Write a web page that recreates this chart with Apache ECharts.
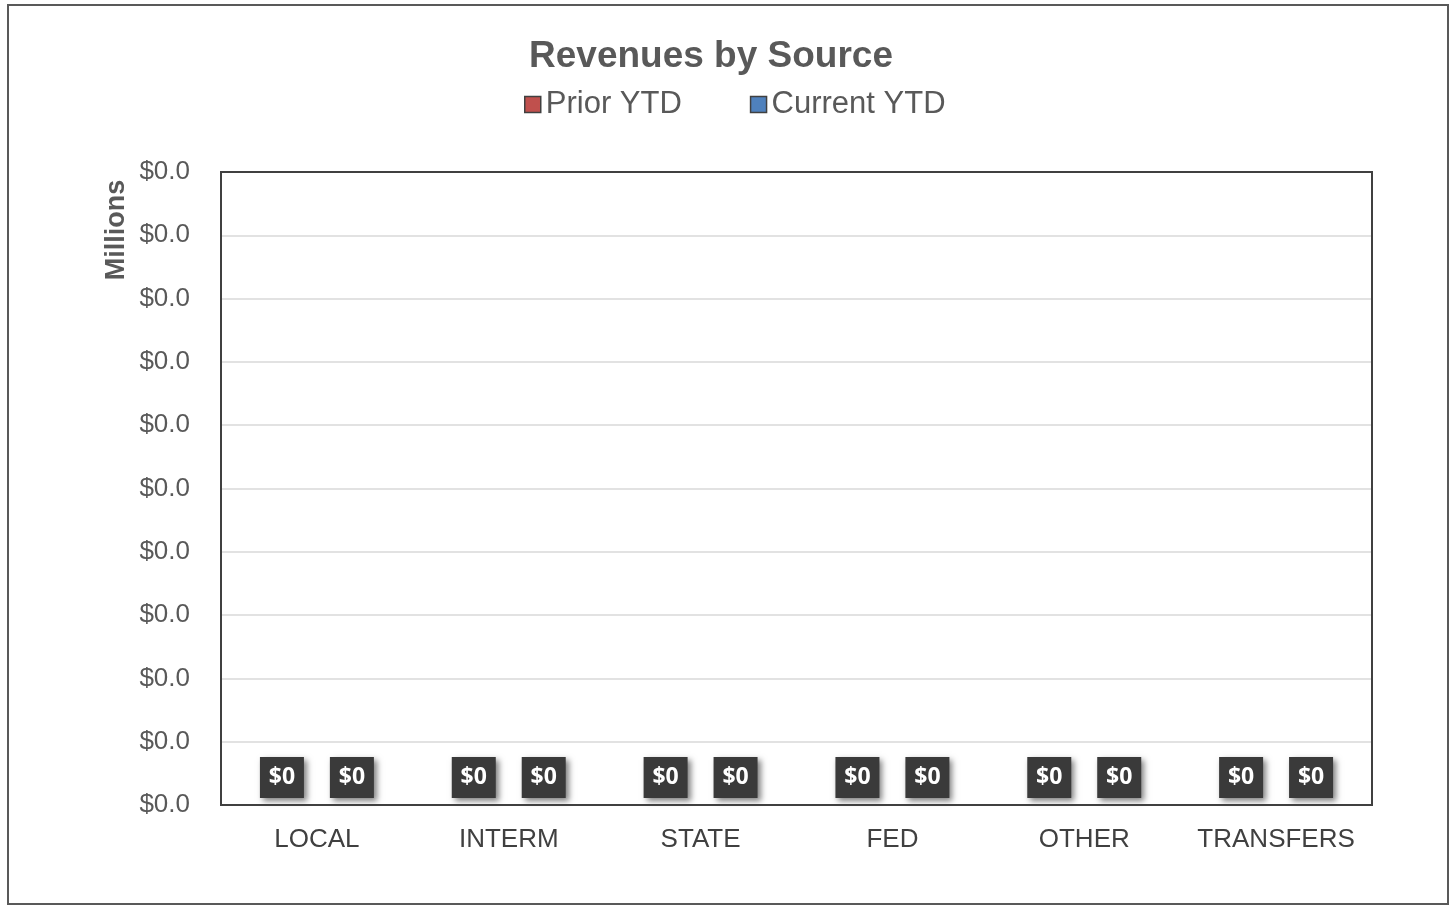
<!DOCTYPE html>
<html>
<head>
<meta charset="utf-8">
<title>Revenues by Source</title>
<script src="https://cdn.jsdelivr.net/npm/echarts@6/dist/echarts.min.js"></script>
<style>
  html, body { margin: 0; padding: 0; background: #ffffff; }
  #chart { width: 1451px; height: 906px; }
</style>
</head>
<body>
<div id="chart"></div>
<script>
// Revenue categories and year-to-date amounts (dollars)
const categories = ['LOCAL', 'INTERM', 'STATE', 'FED', 'OTHER', 'TRANSFERS'];
const priorYTD = [0, 0, 0, 0, 0, 0];
const currentYTD = [0, 0, 0, 0, 0, 0];
const seriesNames = ['Prior YTD', 'Current YTD'];
// Value axis range in dollars, shown in millions
const axisMin = 0;
const axisMax = 10;
const axisStep = 1;

const FONT = '"Liberation Sans", Arial, sans-serif';
const PLOT = { left: 221, right: 79, top: 172, bottom: 101 };
const W = 1451, H = 906;

// Dark value tags with a soft drop shadow
const valueTag = {
  show: true,
  position: 'top',
  distance: 7,
  formatter: p => '$' + (p.value / 1e6).toFixed(0),
  color: '#ffffff',
  fontFamily: '"Open Sans", "Noto Sans", sans-serif',
  fontWeight: 'bold',
  fontSize: 23,
  width: 44,
  height: 41,
  lineHeight: 41,
  align: 'center',
  backgroundColor: '#3a3a3a',
  shadowColor: 'rgba(0,0,0,0.5)',
  shadowBlur: 6,
  shadowOffsetX: 3,
  shadowOffsetY: 3
};

const chart = echarts.init(document.getElementById('chart'), null, { renderer: 'canvas' });

chart.setOption({
  backgroundColor: '#ffffff',
  animation: false,
  title: {
    text: 'Revenues by Source',
    left: 706,
    textAlign: 'center',
    top: 33,
    textStyle: { fontFamily: FONT, fontWeight: 'bold', fontSize: 37, color: '#595959' }
  },
  legend: {
    data: seriesNames,
    left: 519,
    top: 84,
    itemWidth: 16,
    itemHeight: 16,
    itemGap: 68,
    icon: 'rect',
    itemStyle: { borderColor: '#404040', borderWidth: 1.5 },
    textStyle: { fontFamily: FONT, fontSize: 31, color: '#595959' }
  },
  grid: {
    left: PLOT.left,
    right: PLOT.right,
    top: PLOT.top,
    bottom: PLOT.bottom,
    show: false
  },
  xAxis: {
    type: 'category',
    data: categories,
    axisLine: { show: true, lineStyle: { color: '#404040', width: 2 } },
    axisTick: { show: false },
    axisLabel: { interval: 0, fontFamily: FONT, fontSize: 26, color: '#404040', margin: 22 }
  },
  yAxis: {
    type: 'value',
    min: axisMin,
    max: axisMax,
    interval: axisStep,
    axisLine: { show: false },
    axisTick: { show: false },
    splitLine: { show: true, lineStyle: { color: '#d9d9d9', width: 1.5 } },
    axisLabel: {
      fontFamily: FONT,
      fontSize: 26,
      color: '#595959',
      margin: 31,
      formatter: v => '$' + (v / 1e6).toFixed(1)
    }
  },
  graphic: [
    {
      type: 'rect',
      shape: { x: 8, y: 5, width: 1440, height: 899 },
      style: { fill: 'none', stroke: '#595959', lineWidth: 2 },
      silent: true
    },
    {
      // plot-area frame, drawn above the gridlines
      type: 'rect',
      z: 50,
      shape: {
        x: PLOT.left,
        y: PLOT.top,
        width: W - PLOT.left - PLOT.right,
        height: H - PLOT.top - PLOT.bottom
      },
      style: { fill: 'none', stroke: '#404040', lineWidth: 2 },
      silent: true
    },
    {
      type: 'text',
      x: 117,
      y: 230,
      rotation: Math.PI / 2,
      style: {
        text: 'Millions',
        fontFamily: FONT,
        fontWeight: 'bold',
        fontSize: 27,
        fill: '#595959',
        align: 'center',
        verticalAlign: 'middle'
      }
    }
  ],
  series: [
    {
      name: seriesNames[0],
      type: 'bar',
      data: priorYTD,
      barWidth: 44,
      barGap: '59%',
      itemStyle: { color: '#C0504D' },
      label: valueTag
    },
    {
      name: seriesNames[1],
      type: 'bar',
      data: currentYTD,
      barWidth: 44,
      itemStyle: { color: '#4F81BD' },
      label: valueTag
    }
  ]
});
</script>
</body>
</html>
